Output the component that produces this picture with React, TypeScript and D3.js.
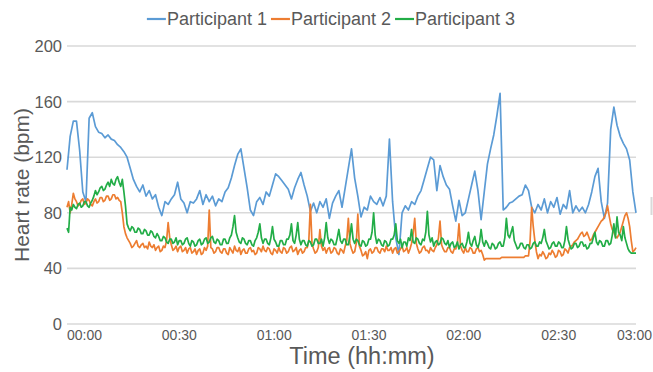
import React from "react";
import * as d3 from "d3";

// Participant 1: heart rate once per minute (bpm), 00:00 .. 03:00
const minutes: number[] = Array.from({ length: 181 }, (_, i) => i);
// Participants 2 and 3: heart rate every half minute
const halfMinutes: number[] = Array.from({ length: 361 }, (_, i) => i / 2);

const participant1: number[] = [
  111, 135, 146, 146, 125, 95, 88, 148, 152, 142,
  138, 137, 134, 136, 133, 132, 129, 127, 124, 120,
  112, 104, 99, 95, 100, 92, 96, 90, 93, 84,
  78, 88, 86, 90, 93, 102, 90, 87, 80, 88,
  87, 90, 96, 86, 93, 88, 92, 85, 90, 88,
  95, 98, 105, 114, 122, 126, 112, 98, 82, 78,
  88, 91, 86, 95, 92, 100, 108, 106, 103, 100,
  97, 90, 98, 104, 109, 100, 92, 81, 87, 80,
  88, 84, 90, 76, 87, 92, 96, 84, 98, 112,
  126, 105, 92, 77, 84, 82, 92, 88, 86, 91,
  85, 92, 133, 88, 62, 50, 80, 85, 82, 88,
  86, 92, 96, 104, 112, 120, 118, 96, 114, 106,
  100, 97, 85, 74, 89, 78, 80, 90, 100, 110,
  96, 75, 95, 115, 126, 136, 150, 166, 82, 84,
  87, 88, 90, 92, 93, 100, 96, 84, 80, 86,
  82, 90, 80, 88, 84, 91, 79, 86, 83, 96,
  80, 85, 81, 84, 80, 86, 95, 106, 112, 88,
  76, 87, 140, 156, 143, 135, 130, 126, 118, 95,
  80,
];

const participant2: number[] = [
  84, 88, 80, 86, 94, 90, 88, 85, 86, 89, 90, 86, 87, 90, 89, 86, 85, 88, 90, 87,
  88, 91, 91, 88, 89, 92, 92, 89, 90, 93, 93, 90, 91, 89, 88, 80, 70, 65, 62, 60,
  58, 55, 56, 58, 60, 56, 55, 57, 58, 55, 56, 54, 59, 56, 55, 57, 53, 55, 56, 52,
  53, 56, 55, 60, 73, 62, 57, 53, 54, 56, 52, 55, 56, 52, 53, 55, 51, 54, 55, 51,
  52, 54, 50, 53, 54, 50, 51, 55, 53, 56, 82, 55, 54, 51, 52, 55, 55, 52, 51, 54,
  54, 51, 50, 55, 53, 51, 56, 53, 52, 55, 50, 53, 54, 51, 51, 54, 55, 52, 53, 50,
  51, 55, 54, 52, 56, 53, 52, 55, 54, 51, 50, 54, 53, 51, 55, 52, 51, 55, 54, 51,
  52, 55, 56, 52, 53, 55, 50, 53, 54, 51, 52, 55, 55, 60, 86, 58, 54, 51, 52, 55,
  68, 56, 53, 55, 51, 54, 55, 51, 52, 55, 54, 51, 50, 54, 53, 51, 56, 60, 76, 58,
  54, 51, 52, 58, 79, 56, 53, 49, 50, 52, 47, 53, 54, 51, 52, 55, 55, 52, 51, 54,
  54, 52, 56, 53, 53, 55, 51, 54, 55, 51, 52, 54, 56, 52, 53, 55, 51, 54, 58, 65,
  76, 58, 54, 51, 52, 55, 56, 53, 53, 51, 55, 53, 52, 55, 57, 62, 74, 57, 54, 52,
  52, 55, 55, 52, 51, 54, 54, 58, 72, 56, 53, 51, 55, 52, 52, 55, 54, 51, 51, 54,
  55, 52, 53, 50, 46, 47, 47, 47, 47, 47, 47, 47, 47, 47, 47, 48, 48, 48, 48, 48,
  48, 48, 48, 48, 48, 48, 48, 48, 48, 48, 49, 49, 49, 60, 84, 70, 60, 52, 47, 50,
  49, 52, 50, 47, 48, 51, 50, 53, 51, 48, 49, 53, 52, 49, 50, 54, 53, 51, 55, 56,
  57, 59, 60, 61, 63, 65, 66, 63, 64, 66, 63, 60, 61, 64, 66, 68, 70, 72, 74, 75,
  77, 80, 85, 78, 72, 68, 66, 63, 62, 64, 66, 70, 74, 78, 80, 76, 70, 60, 52, 53,
  55,
];

const participant3: number[] = [
  69, 66, 84, 82, 86, 84, 83, 86, 87, 84, 85, 88, 88, 85, 84, 87, 89, 92, 96, 93,
  95, 98, 99, 96, 97, 100, 102, 99, 104, 101, 100, 104, 106, 102, 99, 104, 95, 85, 72, 69,
  67, 70, 69, 66, 66, 69, 68, 65, 65, 68, 67, 64, 64, 67, 66, 63, 62, 65, 63, 60,
  60, 63, 62, 59, 58, 61, 61, 58, 59, 62, 57, 60, 60, 57, 58, 61, 62, 58, 56, 60,
  59, 56, 57, 60, 61, 57, 58, 61, 62, 58, 59, 62, 63, 59, 58, 61, 60, 57, 57, 61,
  61, 58, 58, 62, 64, 70, 78, 66, 62, 59, 58, 62, 61, 58, 57, 60, 60, 57, 56, 60,
  62, 66, 72, 62, 58, 61, 61, 58, 57, 62, 70, 61, 59, 56, 56, 60, 60, 57, 57, 61,
  61, 64, 72, 60, 58, 64, 73, 61, 57, 60, 60, 57, 56, 60, 59, 56, 57, 61, 61, 58,
  58, 61, 56, 62, 73, 62, 58, 61, 60, 57, 57, 62, 68, 60, 58, 61, 61, 57, 57, 63,
  72, 61, 58, 61, 60, 57, 56, 60, 59, 56, 57, 61, 61, 66, 80, 64, 58, 61, 60, 57,
  56, 60, 59, 56, 57, 61, 61, 64, 72, 60, 58, 61, 55, 59, 59, 56, 62, 60, 68, 59,
  58, 62, 61, 58, 57, 61, 60, 66, 81, 64, 59, 62, 56, 59, 60, 57, 58, 62, 61, 58,
  57, 60, 55, 58, 59, 55, 56, 59, 54, 57, 58, 55, 55, 59, 66, 58, 56, 60, 63, 57,
  55, 59, 68, 59, 56, 60, 58, 55, 54, 58, 57, 54, 55, 58, 59, 56, 56, 62, 76, 64,
  62, 66, 70, 60, 57, 54, 55, 58, 58, 55, 54, 57, 57, 54, 55, 58, 59, 56, 56, 59,
  58, 62, 68, 60, 57, 54, 55, 58, 59, 56, 56, 59, 58, 55, 55, 60, 70, 61, 57, 54,
  55, 58, 58, 55, 56, 59, 59, 56, 57, 54, 55, 58, 58, 62, 66, 59, 57, 60, 59, 56,
  56, 60, 60, 57, 58, 64, 72, 62, 77, 66, 64, 60, 70, 62, 58, 54, 52, 51, 51, 51,
  51,
];

const seriesNames: string[] = ["Participant 1", "Participant 2", "Participant 3"];
const seriesColors: string[] = ["#5B9BD5", "#ED7D31", "#22AD47"];
const yTicks: number[] = [0, 40, 80, 120, 160, 200];
const xTicks: number[] = [0, 30, 60, 90, 120, 150, 180];
const xTickLabels: string[] = ["00:00", "00:30", "01:00", "01:30", "02:00", "02:30", "03:00"];

const W = 653;
const H = 372;
const FONT = "'Liberation Sans', Arial, sans-serif";

export default function App() {
  const x = d3.scaleLinear().domain([0, 180]).range([67, 636]);
  const y = d3.scaleLinear().domain([0, 200]).range([324, 46]);

  const series = [
    { t: minutes, v: participant1 },
    { t: halfMinutes, v: participant2 },
    { t: halfMinutes, v: participant3 },
  ];
  const pathFor = (t: number[], v: number[]) =>
    d3
      .line<number>()
      .x((_, i) => x(t[i]))
      .y((d) => y(d))(v) || "";

  // legend: sample line directly followed by its label, items packed side by side
  const legendFont = 18;
  const labelW = legendFont * 5.56;
  const sampleW = 19;
  const itemW = sampleW + 1 + labelW + 4;
  const legendStart = 333 - (itemW * seriesNames.length) / 2;

  return (
    <svg
      width={W}
      height={H}
      viewBox={`0 0 ${W} ${H}`}
      style={{ position: "absolute", left: 0, top: 0, background: "#fff" }}
    >
      <rect x={0} y={0} width={W} height={H} fill="#fff" />

      {/* gridlines */}
      {yTicks.map((t) => (
        <line
          key={t}
          x1={x(0)}
          x2={x(180)}
          y1={y(t)}
          y2={y(t)}
          stroke="#D9D9D9"
          strokeWidth={1.6}
        />
      ))}

      {/* y tick labels */}
      {yTicks.map((t) => (
        <text
          key={t}
          x={62}
          y={y(t)}
          dy="0.36em"
          textAnchor="end"
          fontFamily={FONT}
          fontSize={16.5}
          fill="#595959"
        >
          {t}
        </text>
      ))}

      {/* x tick labels */}
      {xTicks.map((t, i) => {
        const last = i === xTicks.length - 1;
        return (
          <text
            key={t}
            x={last ? 652 : x(t)}
            y={340}
            textAnchor={last ? "end" : "start"}
            fontFamily={FONT}
            fontSize={14}
            fill="#595959"
          >
            {xTickLabels[i]}
          </text>
        );
      })}

      {/* series */}
      {series.map((s, i) => (
        <path
          key={i}
          d={pathFor(s.t, s.v)}
          fill="none"
          stroke={seriesColors[i]}
          strokeWidth={1.7}
          strokeLinejoin="round"
        />
      ))}

      {/* axis titles */}
      <text
        x={362}
        y={364}
        textAnchor="middle"
        fontFamily={FONT}
        fontSize={23.5}
        fill="#595959"
      >
        Time (hh:mm)
      </text>
      <text
        transform={`translate(29,185) rotate(-90)`}
        textAnchor="middle"
        fontFamily={FONT}
        fontSize={21}
        fill="#595959"
      >
        Heart rate (bpm)
      </text>

      {/* legend */}
      {seriesNames.map((name, i) => {
        const lx = legendStart + i * itemW;
        return (
          <g key={name}>
            <line
              x1={lx}
              x2={lx + sampleW}
              y1={19}
              y2={19}
              stroke={seriesColors[i]}
              strokeWidth={2.2}
            />
            <text
              x={lx + sampleW + 1}
              y={25}
              fontFamily={FONT}
              fontSize={legendFont}
              fill="#595959"
            >
              {name}
            </text>
          </g>
        );
      })}

      {/* clipped edge of an adjacent element */}
      <rect x={650.5} y={197} width={2} height={18} fill="#D9D9D9" />
    </svg>
  );
}
